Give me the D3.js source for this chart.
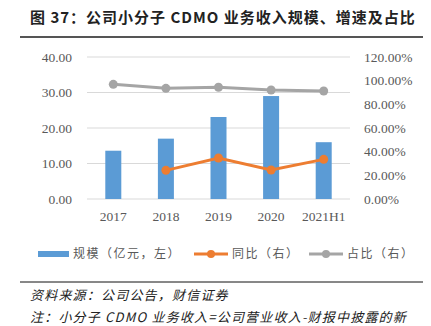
<!DOCTYPE html>
<meta charset="utf-8">
<style>
    body { margin: 0; background: #fff; }
    text { font-family: "Liberation Serif", "Noto Sans CJK SC", serif; }
    .cjk { font-family: "Noto Sans CJK SC", sans-serif; }
    .axis path, .axis line { display: none; }
    .axis text { fill: #595959; font-size: 13.5px; font-family: "Liberation Serif", serif; }
</style>
<body>
<svg id="chart" width="431" height="326"></svg>
<script src="https://cdnjs.cloudflare.com/ajax/libs/d3/7.8.5/d3.min.js"></script>
<script>
    var categories = ["2017", "2018", "2019", "2020", "2021H1"];
    var scale = [13.6, 17.0, 23.1, 29.0, 16.0];        // 规模（亿元）
    var yoy = [null, 0.242, 0.346, 0.245, 0.335];      // 同比
    var share = [0.969, 0.935, 0.944, 0.921, 0.913];   // 占比
    var leftTicks = [0, 10, 20, 30, 40];
    var rightTicks = [0, 0.2, 0.4, 0.6, 0.8, 1.0, 1.2];

    var svg = d3.select("#chart");
    var plotL = 87, plotR = 350, plotT = 57, plotB = 199;

    // title
    svg.append("text")
        .attr("class", "cjk")
        .attr("x", 30).attr("y", 23)
        .style("font-size", "15px").style("font-weight", "700").style("fill", "#222")
        .style("letter-spacing", "1px")
        .text("图 37：公司小分子 CDMO 业务收入规模、增速及占比");
    svg.append("line")
        .attr("x1", 20).attr("x2", 423).attr("y1", 37).attr("y2", 37)
        .style("stroke", "#555").style("stroke-width", 2);

    var x = d3.scaleBand().domain(categories).range([plotL, plotR]);
    var yL = d3.scaleLinear().domain([0, 40]).range([plotB, plotT]);
    var yR = d3.scaleLinear().domain([0, 1.2]).range([plotB, plotT]);

    // gridlines
    svg.append("g").selectAll("line").data(leftTicks).enter().append("line")
        .attr("x1", plotL).attr("x2", plotR)
        .attr("y1", function (d) { return yL(d); })
        .attr("y2", function (d) { return yL(d); })
        .style("stroke", "#d9d9d9").style("stroke-width", 1);

    svg.append("g").attr("class", "axis")
        .attr("transform", "translate(" + (plotL - 8) + ",0)")
        .call(d3.axisLeft(yL).tickValues(leftTicks).tickFormat(d3.format(".2f")).tickSize(0).tickPadding(7));

    svg.append("g").attr("class", "axis")
        .attr("transform", "translate(" + (plotR + 7) + ",0)")
        .call(d3.axisRight(yR).tickValues(rightTicks).tickFormat(d3.format(".2%")).tickSize(0).tickPadding(7));

    svg.append("g").attr("class", "axis")
        .attr("transform", "translate(0," + (plotB + 6) + ")")
        .call(d3.axisBottom(x).tickSize(0).tickPadding(6));

    // bars
    var bw = 16;
    svg.append("g").selectAll("rect").data(scale).enter().append("rect")
        .attr("x", function (d, i) { return x(categories[i]) + x.bandwidth() / 2 - bw / 2; })
        .attr("y", function (d) { return yL(d); })
        .attr("width", bw)
        .attr("height", function (d) { return plotB - yL(d); })
        .style("fill", "#5b9bd5");

    function drawLine(values, color) {
        var pts = values.map(function (v, i) { return { c: categories[i], v: v }; })
            .filter(function (d) { return d.v !== null; });
        var line = d3.line()
            .x(function (d) { return x(d.c) + x.bandwidth() / 2; })
            .y(function (d) { return yR(d.v); });
        svg.append("path").datum(pts).attr("d", line)
            .style("fill", "none").style("stroke", color).style("stroke-width", 3);
        svg.append("g").selectAll("circle").data(pts).enter().append("circle")
            .attr("cx", function (d) { return x(d.c) + x.bandwidth() / 2; })
            .attr("cy", function (d) { return yR(d.v); })
            .attr("r", 4.5).style("fill", color);
    }
    drawLine(share, "#a5a5a5");
    drawLine(yoy, "#ed7d31");

    // legend
    var lg = svg.append("g").attr("class", "cjk").style("font-size", "12px")
        .style("letter-spacing", "1.5px");
    lg.append("rect").attr("x", 38).attr("y", 251).attr("width", 31).attr("height", 6).style("fill", "#5b9bd5");
    lg.append("text").attr("x", 73).attr("y", 258).style("fill", "#595959").text("规模（亿元，左）");
    [["#ed7d31", 194, 232, "同比（右）"], ["#a5a5a5", 309, 347, "占比（右）"]].forEach(function (e) {
        lg.append("line").attr("x1", e[1]).attr("x2", e[1] + 34).attr("y1", 254).attr("y2", 254)
            .style("stroke", e[0]).style("stroke-width", 3);
        lg.append("circle").attr("cx", e[1] + 17).attr("cy", 254).attr("r", 4).style("fill", e[0]);
        lg.append("text").attr("x", e[2]).attr("y", 258).style("fill", "#595959").text(e[3]);
    });

    // source
    svg.append("line")
        .attr("x1", 20).attr("x2", 423).attr("y1", 282).attr("y2", 282)
        .style("stroke", "#111").style("stroke-width", 1);
    svg.append("text").attr("class", "cjk")
        .attr("x", 30).attr("y", 300)
        .style("font-size", "13px").style("font-style", "italic").style("fill", "#222")
        .style("letter-spacing", "1.2px")
        .text("资料来源：公司公告，财信证券");
    svg.append("text").attr("class", "cjk")
        .attr("x", 30).attr("y", 322)
        .style("font-size", "13px").style("font-style", "italic").style("fill", "#222")
        .style("letter-spacing", "1.2px")
        .text("注：小分子 CDMO 业务收入=公司营业收入-财报中披露的新");
</script>
</body>
